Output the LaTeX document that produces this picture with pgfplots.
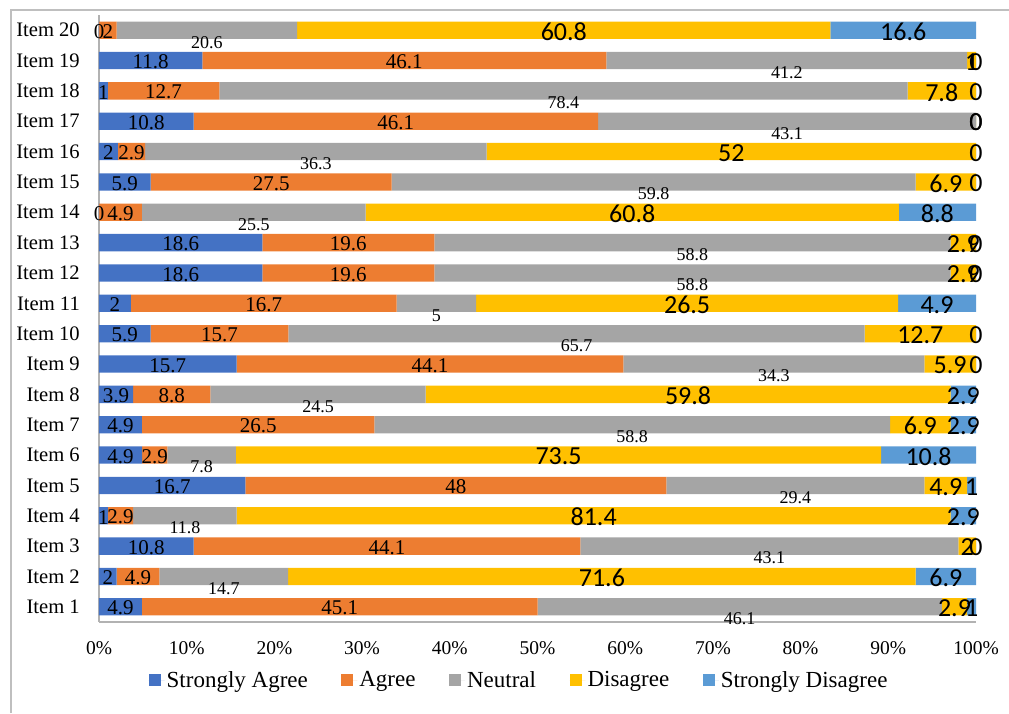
\documentclass[border=0pt]{standalone}
\usepackage{pgfplots}
\pgfplotsset{compat=1.18}
\usepackage{pgfplotstable}
\usepackage{fontspec}
\setmainfont{Liberation Serif}
\newfontfamily\calib{Carlito}
\definecolor{saC}{HTML}{4472C4}
\definecolor{aC}{HTML}{ED7D31}
\definecolor{nC}{HTML}{A5A5A5}
\definecolor{dC}{HTML}{FFC000}
\definecolor{sdC}{HTML}{5B9BD5}
\pgfplotstableread{
item sa a n d sd
1 4.9 45.1 46.1 2.9 1
2 2 4.9 14.7 71.6 6.9
3 10.8 44.1 43.1 2 0
4 1 2.9 11.8 81.4 2.9
5 16.7 48 29.4 4.9 1
6 4.9 2.9 7.8 73.5 10.8
7 4.9 26.5 58.8 6.9 2.9
8 3.9 8.8 24.5 59.8 2.9
9 15.7 44.1 34.3 5.9 0
10 5.9 15.7 65.7 12.7 0
11 2 16.7 5 26.5 4.9
12 18.6 19.6 58.8 2.9 0
13 18.6 19.6 58.8 2.9 0
14 0 4.9 25.5 60.8 8.8
15 5.9 27.5 59.8 6.9 0
16 2 2.9 36.3 52 0
17 10.8 46.1 43.1 0 0
18 1 12.7 78.4 7.8 0
19 11.8 46.1 41.2 1 0
20 0 2 20.6 60.8 16.6
}\datatable
\newcommand\tot{(\thisrow{sa}+\thisrow{a}+\thisrow{n}+\thisrow{d}+\thisrow{sd})}
\begin{document}
\begin{tikzpicture}
\useasboundingbox (0,0) rectangle (1009pt,713pt);
\draw[color=black!25, line width=1.5pt] (11pt,0pt) -- (11pt,703pt) -- (1009pt,703pt);
\begin{axis}[
  at={(99pt,91pt)}, anchor=south west,
  scale only axis, width=877pt, height=607pt,
  xbar stacked, bar width=17.3pt,
  xmin=0, xmax=100, ymin=0.5, ymax=20.5,
  clip=false,
  axis x line*=bottom, axis y line*=left,
  axis line style={-, draw=black!30, line width=1.2pt},
  major tick length=0pt,
  xtick={0,10,...,100},
  xticklabels={0\%,10\%,20\%,30\%,40\%,50\%,60\%,70\%,80\%,90\%,100\%},
  xticklabel style={font=\fontsize{19.5}{20}\selectfont, inner sep=0pt, anchor=north, yshift=-19pt},
  ytick={1,...,20},
  yticklabels={Item 1,Item 2,Item 3,Item 4,Item 5,Item 6,Item 7,Item 8,Item 9,Item 10,Item 11,Item 12,Item 13,Item 14,Item 15,Item 16,Item 17,Item 18,Item 19,Item 20},
  yticklabel style={font=\fontsize{20.6}{21}\selectfont, inner sep=0pt, anchor=east, xshift=-19pt},
  legend columns=5,
  legend style={at={(0.479,-0.0956)}, anchor=center, draw=none, fill=none,
    font=\fontsize{23}{24}\selectfont,
    /tikz/every even column/.append style={column sep=31.5pt}},
  legend image code/.code={\draw[#1, draw=none] (0pt,-6pt) rectangle (12pt,6pt);\path (0pt,0pt) -- (16pt,0pt);},
  point meta=explicit symbolic,
  nodes near coords,
]
\addplot[fill=saC, draw=none,
  every node near coord/.append style={font=\fontsize{21}{21}\selectfont, text=black, yshift=-1.3pt}]
  table[y=item, x expr={100*\thisrow{sa}/\tot+0.0001}, meta=sa] {\datatable};
\addplot[fill=aC, draw=none,
  every node near coord/.append style={font=\fontsize{21}{21}\selectfont, text=black, yshift=-1.3pt}]
  table[y=item, x expr={100*\thisrow{a}/\tot+0.0001}, meta=a] {\datatable};
\addplot[fill=nC, draw=none,
  every node near coord/.append style={font=\fontsize{18}{18}\selectfont, text=black, yshift=-12pt}]
  table[y=item, x expr={100*\thisrow{n}/\tot+0.0001}, meta=n] {\datatable};
\addplot[fill=dC, draw=none,
  every node near coord/.append style={font=\calib\fontsize{26}{26}\selectfont, text=black, yshift=-1.4pt}]
  table[y=item, x expr={100*\thisrow{d}/\tot+0.0001}, meta=d] {\datatable};
\addplot[fill=sdC, draw=none,
  every node near coord/.append style={font=\calib\fontsize{26}{26}\selectfont, text=black, yshift=-1.4pt}]
  table[y=item, x expr={100*\thisrow{sd}/\tot+0.0001}, meta=sd] {\datatable};
\legend{Strongly Agree,Agree,Neutral,Disagree,Strongly Disagree}
\end{axis}
\end{tikzpicture}
\end{document}
